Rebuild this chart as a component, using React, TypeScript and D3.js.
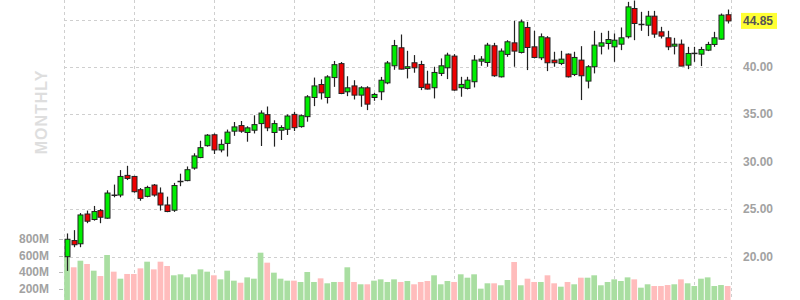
import React from 'react';
import * as d3 from 'd3';

const opens = [20.0,21.7,21.36,24.5,23.92,24.86,24.06,26.5,26.5,28.57,28.46,27.06,26.36,27.55,26.71,25.45,24.9,27.9,28.02,29.34,30.45,31.7,32.85,31.25,31.94,33.23,33.82,33.09,33.33,34.03,34.97,33.09,33.33,33.43,35.0,33.71,34.76,36.78,38.15,36.78,38.88,40.35,37.38,38.0,37.03,37.8,36.78,37.38,38.32,40.12,42.02,39.84,40.44,40.26,38.19,37.81,39.32,39.91,41.14,37.81,37.74,38.44,40.61,40.47,42.23,38.96,41.32,42.54,41.53,44.16,42.12,40.96,43.07,40.72,40.37,41.35,39.21,40.72,38.51,40.02,42.19,42.47,42.12,42.4,43.18,46.16,44.45,44.4,45.35,43.7,43.07,42.19,42.4,40.19,41.4,41.35,41.77,42.37,42.93,45.5];
const highs = [22.45,22.8,24.6,24.86,25.35,25.03,27.0,27.6,29.13,29.58,28.53,27.24,27.48,27.66,27.3,26.33,27.78,28.75,29.51,30.9,32.22,32.92,32.99,32.36,33.4,34.2,34.3,33.75,34.9,35.42,35.83,34.38,33.85,35.0,35.28,35.0,37.03,38.88,38.7,39.13,40.63,40.52,39.02,38.6,37.97,37.97,37.27,38.95,40.63,42.85,43.42,41.7,41.25,40.65,39.6,40.02,40.9,41.5,41.35,38.96,38.96,41.25,41.14,42.54,42.54,41.95,42.82,44.86,45.0,44.75,43.81,43.53,43.25,41.6,41.7,41.42,41.6,42.19,40.19,43.81,43.6,43.81,43.53,44.16,46.86,47.0,45.81,45.91,45.91,44.23,43.81,43.07,42.89,42.12,42.12,42.12,42.65,43.7,45.63,46.05];
const lows = [18.5,21.0,21.0,23.53,23.8,23.53,24.0,26.26,26.26,28.08,26.75,25.9,26.26,26.33,24.86,24.69,24.72,27.43,27.95,29.17,30.38,31.6,30.83,31.0,30.56,32.74,33.06,32.12,32.99,31.67,33.23,31.6,32.3,32.83,33.25,33.6,34.23,35.87,36.57,36.15,37.9,37.13,36.92,36.57,35.8,35.45,36.43,36.5,38.18,39.7,39.74,38.79,39.39,37.56,37.63,36.68,39.04,38.72,37.49,36.86,37.63,37.84,40.12,40.02,38.96,38.89,41.07,40.02,41.42,39.67,40.9,40.72,39.56,40.02,40.19,38.89,39.04,36.51,37.74,39.32,41.32,41.84,40.54,41.77,43.0,42.82,43.81,43.25,43.07,43.0,41.77,41.32,40.09,39.77,40.54,40.09,41.67,42.12,42.89,44.58];
const closes = [21.84,21.26,24.4,23.74,24.76,24.16,26.71,26.45,28.46,28.25,26.85,26.15,27.3,26.5,25.45,24.76,27.5,27.95,29.17,30.62,31.49,32.81,31.25,31.84,33.13,33.68,33.23,33.58,33.92,35.14,33.58,34.03,33.61,34.83,33.6,34.86,36.85,38.0,37.27,38.95,40.24,37.2,37.8,37.03,37.8,36.08,37.1,38.6,40.42,42.25,39.77,40.02,39.91,37.84,37.67,39.42,40.12,41.25,37.56,38.16,38.61,40.72,40.82,42.3,39.07,41.67,42.65,41.67,44.75,42.05,41.0,43.18,40.44,40.44,40.82,38.96,41.0,39.07,40.02,42.3,42.54,42.89,42.82,43.07,46.33,44.58,44.5,45.35,43.46,43.25,42.12,42.4,40.09,41.42,41.45,41.84,42.37,43.07,45.46,44.85];
const volumesM = [585,457,537,497,416,351,606,404,319,376,376,444,525,432,525,473,360,372,335,372,432,404,360,311,416,295,270,335,319,634,513,392,319,295,295,279,400,279,323,263,279,279,457,279,251,251,295,311,279,311,279,291,251,279,291,360,251,291,279,372,331,372,198,263,263,239,303,521,239,319,279,279,360,263,222,279,251,331,331,360,239,279,311,291,335,311,210,251,230,230,242,251,311,263,230,319,335,230,242,230];

const yearStartIdx = [10, 22, 34, 46, 58, 70, 82, 94];
const priceTicks = [15, 20, 25, 30, 35, 40, 45];
const priceLabelTicks = [20, 25, 30, 35, 40];
const volumeTicks = [200, 400, 600, 800];
const lastPriceLabel = '44.85';
const timeframeLabel = 'MONTHLY';

export default function App() {
  const W = 800, H = 300;
  const n = opens.length;
  const x = d3.scaleLinear().domain([-0.5, n - 0.5]).range([63.7, 731]);
  const y = d3.scaleLinear().domain([20, 45]).range([256.7, 19.5]);
  const yv = d3.scaleLinear().domain([0, 800]).range([305, 239]);
  const bodyW = 5;
  const volW = 5.7;
  const font = '"Liberation Sans", Arial, sans-serif';
  const grid = '#cfcfcf';
  const lastClose = closes[n - 1];

  return (
    <svg width={W} height={H} style={{ position: 'absolute', left: 0, top: 0, background: '#fff' }} fontFamily={font}>
      <g stroke={grid} strokeWidth={1} strokeDasharray="3,3" fill="none" shapeRendering="crispEdges">
        {priceTicks.map(t => (
          <line key={'h' + t} x1={x(-0.5)} x2={x(n - 0.5)} y1={Math.round(y(t)) + 0.5} y2={Math.round(y(t)) + 0.5} />
        ))}
        {[-0.5, ...yearStartIdx, n - 0.5].map(i => (
          <line key={'v' + i} x1={Math.round(x(i)) + 0.5} x2={Math.round(x(i)) + 0.5} y1={0} y2={H} />
        ))}
      </g>
      <g>
        {volumesM.map((v, i) => (
          <rect key={'vol' + i} x={x(i) - volW / 2} width={volW} y={yv(v)} height={yv(0) - yv(v)}
            fill={closes[i] >= opens[i] ? '#a9dea1' : '#ffbcbc'} />
        ))}
      </g>
      <g>
        {opens.map((o, i) => {
          const c = closes[i];
          const up = c >= o;
          const cx = Math.round(x(i)) + 0.5;
          const top = y(Math.max(o, c));
          const bot = y(Math.min(o, c));
          return (
            <g key={'c' + i}>
              <line x1={cx} x2={cx} y1={y(highs[i])} y2={y(lows[i])} stroke="#222" strokeWidth={1.2} />
              <rect x={cx - bodyW / 2} width={bodyW} y={top} height={Math.max(bot - top, 0.3)}
                fill={up ? '#00ee00' : '#ee0000'} stroke="#222" strokeWidth={1} />
            </g>
          );
        })}
      </g>
      <g fill="#a2a2a2" fontSize={12} fontWeight="bold">
        {priceLabelTicks.map(t => (
          <text key={'pl' + t} x={743} y={y(t)} dominantBaseline="central">{t.toFixed(2)}</text>
        ))}
        {volumeTicks.map(t => (
          <text key={'vl' + t} x={49} y={yv(t)} dominantBaseline="central" textAnchor="end">{t + 'M'}</text>
        ))}
      </g>
      <g stroke="#bbb" strokeWidth={1}>
        {volumeTicks.map(t => (
          <line key={'vt' + t} x1={59} x2={63} y1={Math.round(yv(t)) + 0.5} y2={Math.round(yv(t)) + 0.5} />
        ))}
      </g>
      <text transform={`translate(41,112) rotate(-90)`} textAnchor="middle" dominantBaseline="central"
        fill="#dedede" fontSize={16} fontWeight="bold" letterSpacing={1}>{timeframeLabel}</text>
      <rect x={741} y={y(lastClose) - 8} width={36} height={16} fill="#ffff33" />
      <text x={743} y={y(lastClose)} dominantBaseline="central" fontSize={12} fontWeight="bold" fill="#555">{lastPriceLabel}</text>
    </svg>
  );
}
